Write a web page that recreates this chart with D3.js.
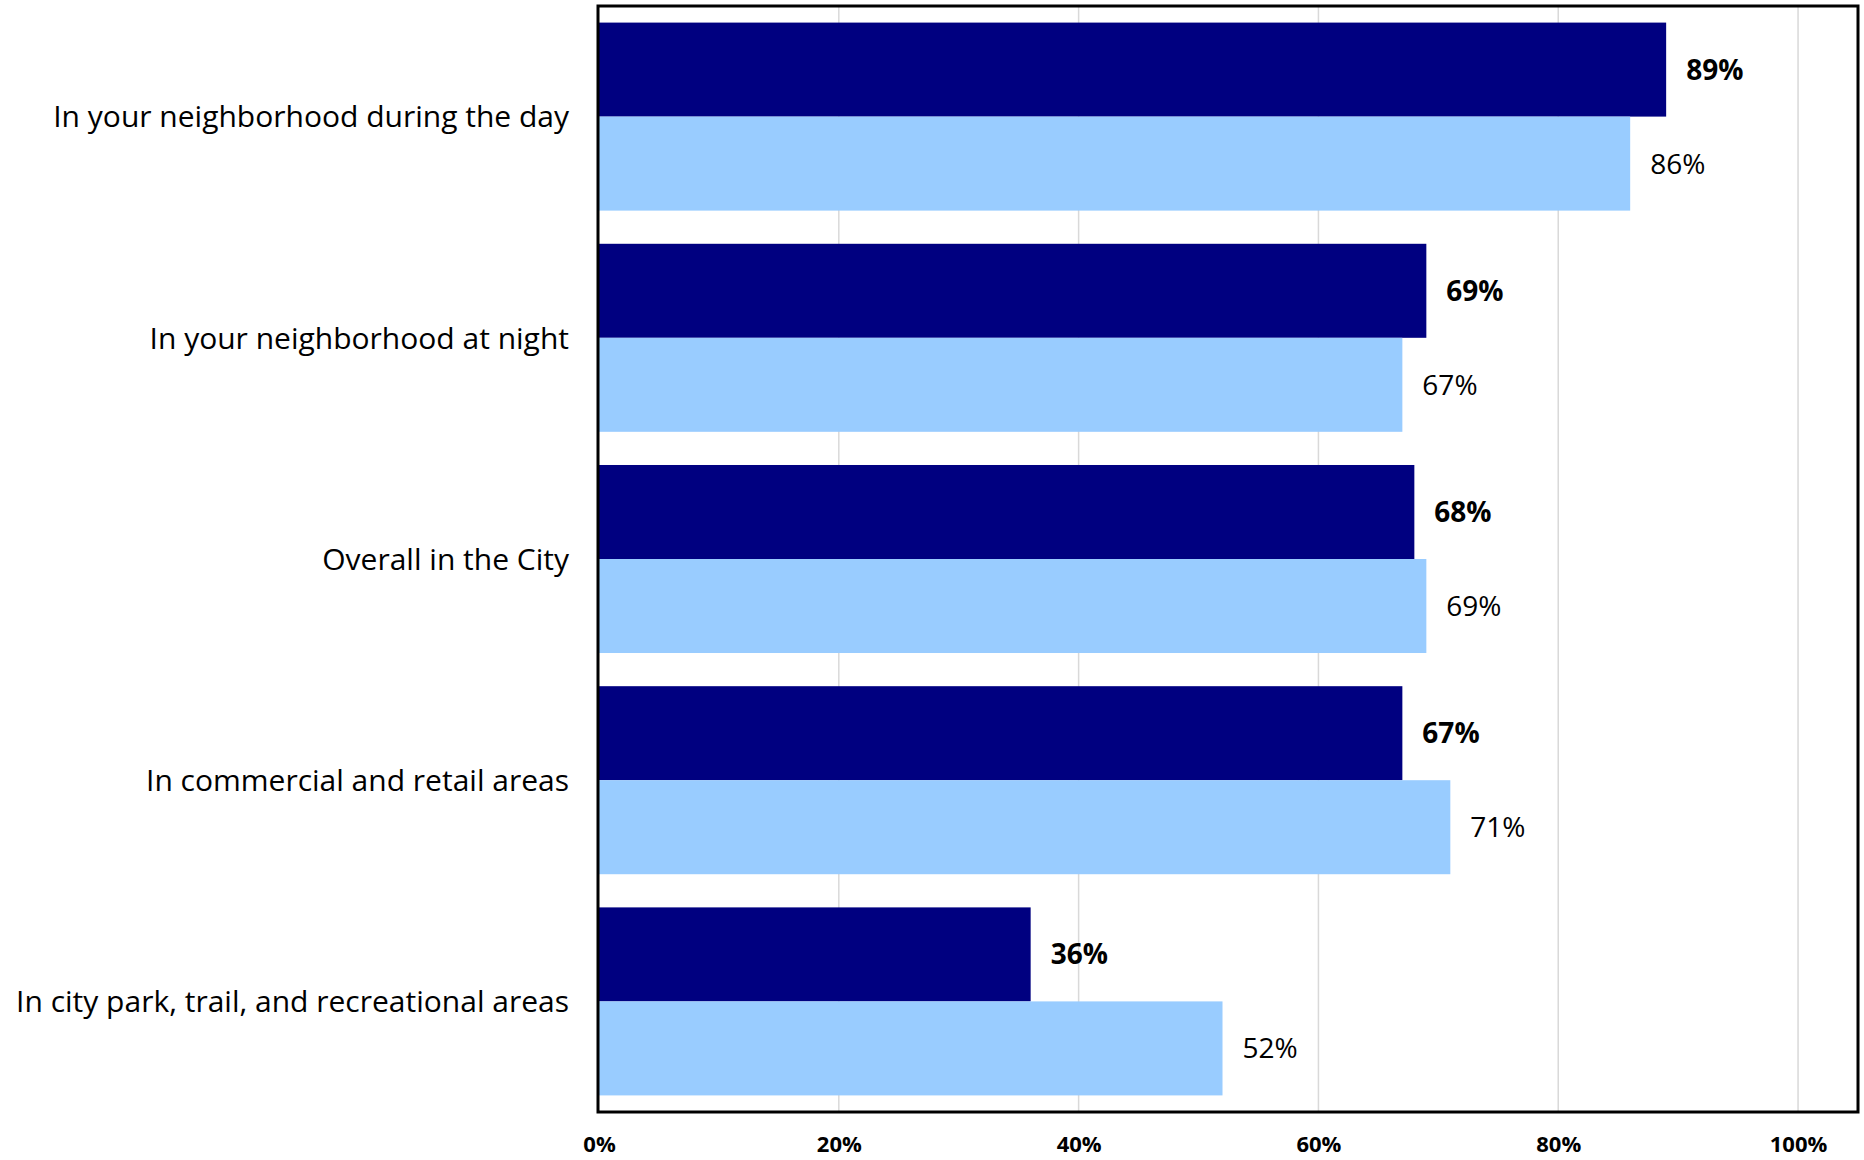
<!DOCTYPE html>
<html>
<head>
<meta charset="utf-8">
<script src="https://cdn.jsdelivr.net/npm/d3@7"></script>
<style>
  html, body { margin: 0; padding: 0; background: #fff; }
  svg { display: block; }
  text { font-family: "Open Sans", "Noto Sans", sans-serif; fill: #000; }
</style>
</head>
<body>
<svg id="chart" width="1864" height="1160"></svg>
<script>
// Share of residents who feel safe, by setting
const categories = [
  "In your neighborhood during the day",
  "In your neighborhood at night",
  "Overall in the City",
  "In commercial and retail areas",
  "In city park, trail, and recreational areas"
];
const currentValues = [89, 69, 68, 67, 36];   // dark bars, bold labels
const previousValues = [86, 67, 69, 71, 52];  // light bars
const seriesKeys = ["current", "previous"];
const tickValues = [0, 20, 40, 60, 80, 100];

const colors = { current: "#000080", previous: "#99CCFF" };

const svg = d3.select("#chart");
const plot = { left: 599, right: 1858, top: 6, bottom: 1112 };

const x = d3.scaleLinear().domain([0, 105]).range([plot.left, plot.right]);
const y = d3.scaleBand().domain(categories)
  .range([plot.top, plot.bottom]).paddingInner(0.15).paddingOuter(0.075);
const ySub = d3.scaleBand().domain(seriesKeys).range([0, y.bandwidth()]);

const rows = categories.map((c, i) => ({
  category: c,
  current: currentValues[i],
  previous: previousValues[i]
}));

// vertical gridlines
svg.append("g")
  .selectAll("line")
  .data(tickValues.filter(t => t > 0))
  .join("line")
  .attr("x1", d => x(d)).attr("x2", d => x(d))
  .attr("y1", plot.top).attr("y2", plot.bottom)
  .attr("stroke", "#d9d9d9").attr("stroke-width", 1.5);

// bars and value labels
const groups = svg.append("g")
  .selectAll("g")
  .data(rows)
  .join("g")
  .attr("transform", d => `translate(0,${y(d.category)})`);

groups.selectAll("rect")
  .data(d => seriesKeys.map(k => ({ key: k, value: d[k] })))
  .join("rect")
  .attr("x", x(0))
  .attr("y", d => ySub(d.key))
  .attr("width", d => x(d.value) - x(0))
  .attr("height", ySub.bandwidth())
  .attr("fill", d => colors[d.key]);

groups.selectAll("text.value")
  .data(d => seriesKeys.map(k => ({ key: k, value: d[k] })))
  .join("text")
  .attr("class", "value")
  .attr("x", d => x(d.value) + 20)
  .attr("y", d => ySub(d.key) + ySub.bandwidth() / 2)
  .attr("dy", "0.36em")
  .attr("font-size", 28)
  .attr("font-weight", d => d.key === "current" ? 700 : 400)
  .text(d => d.value + "%");

// category axis labels
svg.append("g")
  .selectAll("text")
  .data(categories)
  .join("text")
  .attr("x", plot.left - 30)
  .attr("y", d => y(d) + y.bandwidth() / 2)
  .attr("dy", "0.36em")
  .attr("text-anchor", "end")
  .attr("font-size", 30)
  .text(d => d);

// x axis tick labels
const xAxis = d3.axisBottom(x)
  .tickValues(tickValues)
  .tickFormat(d => d + "%")
  .tickSize(0)
  .tickPadding(0);

const axisG = svg.append("g")
  .attr("transform", `translate(0,${plot.bottom})`)
  .call(xAxis);
axisG.select(".domain").remove();
axisG.selectAll("text")
  .attr("y", 40)
  .attr("dy", 0)
  .attr("font-size", 22)
  .attr("font-weight", 700)
  .attr("font-family", '"Open Sans", sans-serif')
  .attr("fill", "#000");

// plot frame
svg.append("rect")
  .attr("x", plot.left - 1)
  .attr("y", plot.top)
  .attr("width", plot.right - plot.left + 1)
  .attr("height", plot.bottom - plot.top)
  .attr("fill", "none")
  .attr("stroke", "#000")
  .attr("stroke-width", 3);
</script>
</body>
</html>
